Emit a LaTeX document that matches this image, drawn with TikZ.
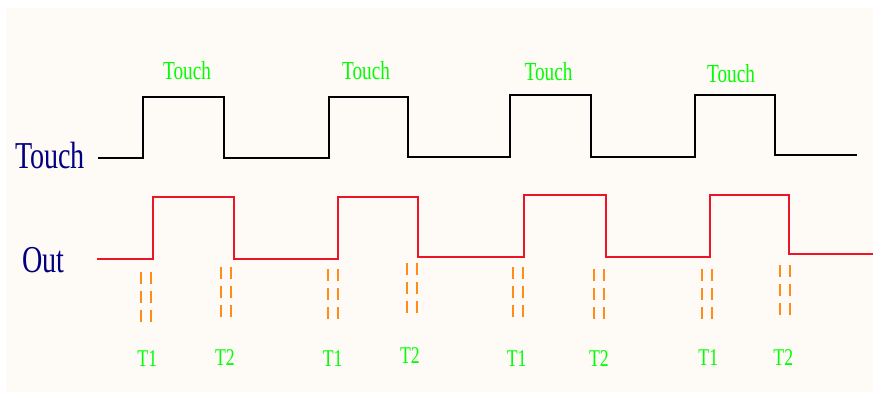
\documentclass[tikz,border=0pt]{standalone}
\usepackage{fontspec}
\setmainfont{Liberation Serif}
\definecolor{cream}{RGB}{254,250,245}
\definecolor{navy}{RGB}{0,0,128}
\definecolor{lgreen}{RGB}{0,255,0}
\definecolor{wred}{RGB}{237,20,40}
\definecolor{dorange}{RGB}{255,140,25}
\tikzset{
  wave/.style={line width=1.8pt, line join=miter},
  dashpair/.style={dorange, line width=1.6pt, dash pattern=on 12pt off 7pt},
  biglabel/.style={navy, inner sep=0pt, anchor=base west, font=\fontsize{38}{38}\selectfont, xscale=0.74},
  touchlabel/.style={lgreen, inner sep=0pt, anchor=base, font=\fontsize{26}{26}\selectfont, xscale=0.74},
  tlabel/.style={lgreen, inner sep=0pt, anchor=base, font=\fontsize{24}{24}\selectfont, xscale=0.74}
}
\begin{document}
\begin{tikzpicture}[x=1pt,y=-1pt]
\useasboundingbox (0,0) rectangle (873,392);
\fill[white] (0,0) rectangle (873,392);
\fill[cream] (6,8) rectangle (873,392);
% labels
\node[biglabel] (touchlbl) at (15,168.3) {Touch};
\node[biglabel] (outlbl) at (22,272.7) {Out};
% Touch waveform
\draw[wave, black] (98,158) -- (143,158) -- (143,97) -- (224,97) -- (224,158)
  -- (329,158) -- (329,97) -- (408,97) -- (408,157)
  -- (510,157) -- (510,95) -- (591,95) -- (591,157)
  -- (695,157) -- (695,95) -- (775,95) -- (775,155) -- (857,155);
% Out waveform
\draw[wave, wred] (97,259) -- (153,259) -- (153,197) -- (234,197) -- (234,259)
  -- (338,259) -- (338,197) -- (418,197) -- (418,257)
  -- (524,257) -- (524,195) -- (606,195) -- (606,257)
  -- (710,257) -- (710,195) -- (789,195) -- (789,254) -- (873,254);
% green touch labels
\node[touchlabel] (tl1) at (187,79) {Touch};
\node[touchlabel] (tl2) at (366,79) {Touch};
\node[touchlabel] (tl3) at (548.5,80.5) {Touch};
\node[touchlabel] (tl4) at (731,82.3) {Touch};
% dashed pairs
\foreach \xa/\ya/\yb in {141/272/323, 221/267/319, 328/269/322, 407/263/315,
  513/267/319, 594/269/322, 702/269/322, 780/265/318}{
  \draw[dashpair] (\xa,\ya) -- (\xa,\yb);
  \draw[dashpair] (\xa+10,\ya) -- (\xa+10,\yb);
}
% T labels
\node[tlabel] (ta) at (147.3,366.7) {T1};
\node[tlabel] (tb) at (225,365) {T2};
\node[tlabel] (tc) at (332.7,366.7) {T1};
\node[tlabel] (td) at (410,363.3) {T2};
\node[tlabel] (te) at (516.7,366.7) {T1};
\node[tlabel] (tf) at (599,366.7) {T2};
\node[tlabel] (tg) at (708.3,365) {T1};
\node[tlabel] (th) at (783.3,365) {T2};
\end{tikzpicture}
\end{document}
